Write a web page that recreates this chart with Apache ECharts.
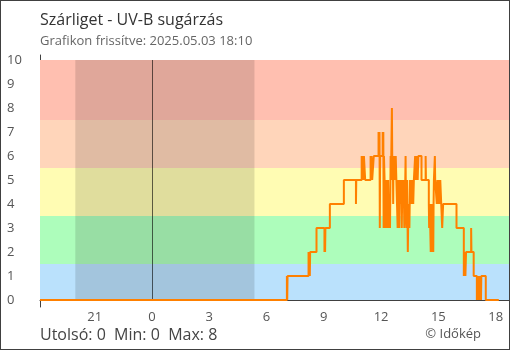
<!DOCTYPE html>
<html>
<head>
<meta charset="utf-8">
<script src="https://cdn.jsdelivr.net/npm/echarts@6/dist/echarts.min.js"></script>
<style>
  html, body { margin: 0; padding: 0; background: #fff; }
  #wrap { position: relative; width: 510px; height: 350px; }
  #chart { width: 510px; height: 350px; }
  #frame { position: absolute; left: 0; top: 0; width: 510px; height: 350px;
           box-sizing: border-box; border: 1px solid #404040; pointer-events: none; }
</style>
</head>
<body>
<div id="wrap"><div id="chart"></div><div id="frame"></div></div>
<script>
// ---- texts ----
const chartTitle = 'Szárliget - UV-B sugárzás';
const updatedText = 'Grafikon frissítve: 2025.05.03 18:10';
const creditText = '© Időkép';

// ---- axes ----
// hours relative to midnight of the current day (negative = previous day)
const hourTicks = [-3, 0, 3, 6, 9, 12, 15, 18];
const uvTicks = [0, 1, 2, 3, 4, 5, 6, 7, 8, 9, 10];
const axisStart = ['18:08', -1];
const axisEnd = ['18:42', 0];

// ---- night (sunset .. sunrise) ----
const nightStart = ['19:59', -1];
const nightEnd = ['05:22', 0];

// ---- UV index bands ----
const bandLimits = [0, 1.5, 3.5, 5.5, 7.5, 10];
const bandColors = ['#BAE1FC', '#ADFDBB', '#FFFCB3', '#FFD5BA', '#FFBFB0'];

// ---- measurements: [time, UV index], value holds until the next reading ----
const prevDayReadings = [['18:08', 0]];
const uvReadings = [
  ['07:04', 1], ['07:05', 0], ['07:06', 1],
  ['08:12', 2], ['08:13', 1], ['08:15', 2], ['08:16', 1], ['08:17', 2],
  ['08:37', 3],
  ['09:02', 2], ['09:03', 3], ['09:04', 2], ['09:05', 3],
  ['09:19', 4],
  ['10:03', 5],
  ['10:41', 4], ['10:42', 5],
  ['10:59', 6], ['11:02', 5], ['11:03', 6], ['11:05', 5], ['11:06', 6], ['11:10', 5],
  ['11:27', 6], ['11:28', 5], ['11:30', 6], ['11:32', 5],
  ['11:37', 6],
  ['11:52', 7], ['11:53', 6], ['11:55', 7], ['11:56', 3], ['11:57', 6],
  ['12:05', 7], ['12:06', 6], ['12:07', 7], ['12:08', 3], ['12:09', 6],
  ['12:11', 5], ['12:13', 4], ['12:14', 3], ['12:16', 5], ['12:17', 3], ['12:19', 4],
  ['12:20', 3], ['12:22', 5], ['12:24', 3], ['12:26', 4], ['12:28', 3],
  ['12:30', 6], ['12:31', 5], ['12:32', 6], ['12:34', 8], ['12:35', 6], ['12:36', 5],
  ['12:37', 6], ['12:38', 4], ['12:39', 6], ['12:41', 5], ['12:43', 6], ['12:44', 5],
  ['12:46', 6], ['12:48', 5],
  ['12:50', 4], ['12:52', 3], ['12:53', 5], ['12:55', 4], ['12:57', 3], ['12:58', 5],
  ['13:00', 4], ['13:02', 5], ['13:04', 4], ['13:05', 3], ['13:07', 5], ['13:09', 4],
  ['13:11', 5], ['13:13', 3], ['13:15', 4],
  ['13:17', 6], ['13:18', 4], ['13:20', 3], ['13:22', 5], ['13:24', 2], ['13:25', 3],
  ['13:27', 4], ['13:29', 3], ['13:31', 5],
  ['13:33', 4], ['13:35', 5], ['13:37', 4], ['13:39', 5], ['13:41', 4], ['13:43', 5],
  ['13:47', 6], ['13:49', 5], ['13:50', 6], ['13:52', 5], ['13:53', 6], ['13:55', 5], ['13:57', 6],
  ['14:07', 5], ['14:20', 6], ['14:21', 5],
  ['14:30', 4], ['14:31', 3], ['14:33', 4], ['14:36', 2], ['14:37', 3], ['14:39', 4],
  ['14:40', 2], ['14:42', 3], ['14:44', 2], ['14:45', 4],
  ['14:46', 5], ['14:49', 6], ['14:50', 5], ['14:55', 4], ['14:57', 5], ['14:59', 4],
  ['15:01', 5], ['15:04', 4], ['15:06', 5], ['15:09', 4],
  ['15:12', 3], ['15:15', 4],
  ['15:57', 3],
  ['16:20', 1], ['16:21', 2], ['16:22', 1], ['16:24', 2], ['16:25', 1], ['16:27', 2],
  ['16:43', 3], ['16:44', 2],
  ['16:51', 1],
  ['17:01', 0], ['17:02', 1], ['17:04', 0], ['17:06', 1], ['17:08', 0], ['17:10', 1],
  ['17:14', 0], ['17:15', 1],
  ['17:29', 0],
  ['18:10', 0]
];

// 'HH:MM' + day offset -> hours relative to midnight
function toHours(hhmm, dayOffset) {
  const [h, m] = hhmm.split(':').map(Number);
  return h + m / 60 + 24 * (dayOffset || 0);
}

const seriesData = prevDayReadings.map(r => [toHours(r[0], -1), r[1]])
  .concat(uvReadings.map(r => [toHours(r[0], 0), r[1]]));

const allValues = seriesData.map(p => p[1]);
const lastValue = allValues[allValues.length - 1];
const minValue = Math.min(...allValues);
const maxValue = Math.max(...allValues);
const footerText = 'Utolsó: ' + lastValue + '  Min: ' + minValue + '  Max: ' + maxValue;

const bandAreas = bandColors.map((c, i) => [
  { yAxis: bandLimits[i], itemStyle: { color: c } },
  { yAxis: bandLimits[i + 1] }
]);
const nightArea = [
  { xAxis: toHours(nightStart[0], nightStart[1]), itemStyle: { color: 'rgba(0,0,0,0.12)' } },
  { xAxis: toHours(nightEnd[0], nightEnd[1]) }
];

const FONT = '"Open Sans", "DejaVu Sans", sans-serif';
const AXIS_COLOR = '#404040';
const xMin = toHours(axisStart[0], axisStart[1]);
const xMax = toHours(axisEnd[0], axisEnd[1]);

const chart = echarts.init(document.getElementById('chart'), null, { renderer: 'canvas' });
chart.setOption({
  animation: false,
  textStyle: { fontFamily: FONT },
  title: [
    { text: chartTitle, left: 35, top: 7,
      textStyle: { fontFamily: FONT, fontSize: 16, fontWeight: 'normal', color: '#333' } },
    { text: updatedText, left: 35, top: 30,
      textStyle: { fontFamily: FONT, fontSize: 13, fontWeight: 'normal', color: '#666' } },
    { text: footerText, left: 35, bottom: 2,
      textStyle: { fontFamily: FONT, fontSize: 16, fontWeight: 'normal', color: '#444' } },
    { text: creditText, right: 24, bottom: 4,
      textStyle: { fontFamily: FONT, fontSize: 13, fontWeight: 'normal', color: '#555' } }
  ],
  grid: [
    { left: 40, right: 1, top: 60, bottom: 50 },
    { left: 40, right: 1, top: 55, bottom: 43 }
  ],
  xAxis: [
    {
      type: 'value', gridIndex: 0, min: xMin, max: xMax,
      splitLine: { show: false },
      axisLine: { show: true, lineStyle: { color: AXIS_COLOR, width: 1 } },
      axisTick: { show: true, inside: true, length: 7, customValues: hourTicks,
                  lineStyle: { color: AXIS_COLOR } },
      axisLabel: { customValues: hourTicks, margin: 11, fontSize: 13, color: '#555', fontFamily: FONT,
                   formatter: v => String(((Math.round(v) % 24) + 24) % 24) }
    },
    { type: 'value', gridIndex: 1, show: false, min: 0, max: 1 }
  ],
  yAxis: [
    {
      type: 'value', gridIndex: 0, position: 'left', min: 0, max: 10, interval: 1,
      splitLine: { show: false },
      axisLine: { show: false },
      axisTick: { show: true, length: 6, lineStyle: { color: AXIS_COLOR } },
      axisLabel: { margin: 33, align: 'left', fontSize: 13, color: '#555', fontFamily: FONT,
                   customValues: uvTicks }
    },
    {
      type: 'value', gridIndex: 0, position: 'left', offset: 0, min: 0, max: 10, interval: 1,
      splitLine: { show: false },
      axisLine: { show: false },
      axisTick: { show: true, inside: true, length: 7, lineStyle: { color: AXIS_COLOR } },
      axisLabel: { show: false }
    },
    {
      type: 'value', gridIndex: 1, position: 'left', min: 0, max: 1,
      splitLine: { show: false },
      axisLine: { show: true, lineStyle: { color: AXIS_COLOR, width: 1 } },
      axisTick: { show: false },
      axisLabel: { show: false }
    }
  ],
  series: [
    {
      name: 'UV-B',
      type: 'line',
      xAxisIndex: 0, yAxisIndex: 0,
      step: 'end',
      showSymbol: false,
      symbol: 'none',
      data: seriesData,
      lineStyle: { color: '#FF8000', width: 2 },
      z: 5,
      markArea: {
        silent: true,
        label: { show: false },
        data: bandAreas.concat([nightArea])
      },
      markLine: {
        silent: true,
        symbol: ['none', 'none'],
        label: { show: false },
        lineStyle: { color: 'rgba(0,0,0,0.6)', width: 1, type: 'solid' },
        data: [{ xAxis: 0 }]
      }
    }
  ]
});
</script>
</body>
</html>
